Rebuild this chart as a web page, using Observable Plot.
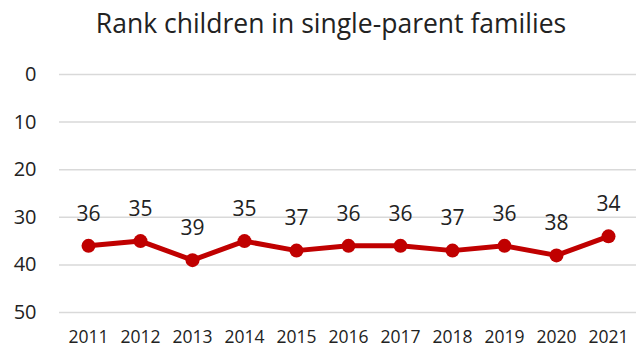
<!DOCTYPE html>
<html>
<head>
<meta charset="utf-8">
<script src="https://cdn.jsdelivr.net/npm/d3@7"></script>
<script src="https://cdn.jsdelivr.net/npm/@observablehq/plot@0.6"></script>
<style>
  body { margin: 0; background: #fff; font-family: "Open Sans", sans-serif; }
  #title { width: 642px; height: 48px; box-sizing: border-box; padding-left: 20px; text-align: center; font-size: 26.5px; line-height: 46px; color: #222; white-space: nowrap; }
</style>
</head>
<body>
<div id="title">Rank children in single-parent families</div>
<div id="chart"></div>
<script>
const years = ["2011","2012","2013","2014","2015","2016","2017","2018","2019","2020","2021"];
const ranks = [36, 35, 39, 35, 37, 36, 36, 37, 36, 38, 34];
const yTicks = [0, 10, 20, 30, 40, 50];

const data = years.map((y, i) => ({year: y, rank: ranks[i]}));

const chart = Plot.plot({
  width: 642,
  height: 300,
  marginLeft: 59,
  marginRight: 6,
  marginTop: 26,
  marginBottom: 36,
  style: {fontFamily: "Open Sans", color: "#222", background: "#fff"},
  x: {type: "band", domain: years, padding: 0, label: null},
  y: {domain: [0, 50], reverse: true, label: null},
  marks: [
    Plot.gridY(yTicks, {stroke: "#d9d9d9", strokeOpacity: 1, strokeWidth: 1.5}),
    Plot.axisY(yTicks, {tickSize: 0, tickPadding: 23, fontSize: 20, label: null}),
    Plot.axisX({tickSize: 0, tickPadding: 18, fontSize: 17.5, label: null}),
    Plot.line(data, {x: "year", y: "rank", stroke: "#c00000", strokeWidth: 5}),
    Plot.dot(data, {x: "year", y: "rank", r: 7, fill: "#c00000"}),
    Plot.text(data, {x: "year", y: "rank", text: d => String(d.rank), dy: -32, fontSize: 21, fill: "#222"})
  ]
});
document.getElementById("chart").appendChild(chart);
</script>
</body>
</html>
